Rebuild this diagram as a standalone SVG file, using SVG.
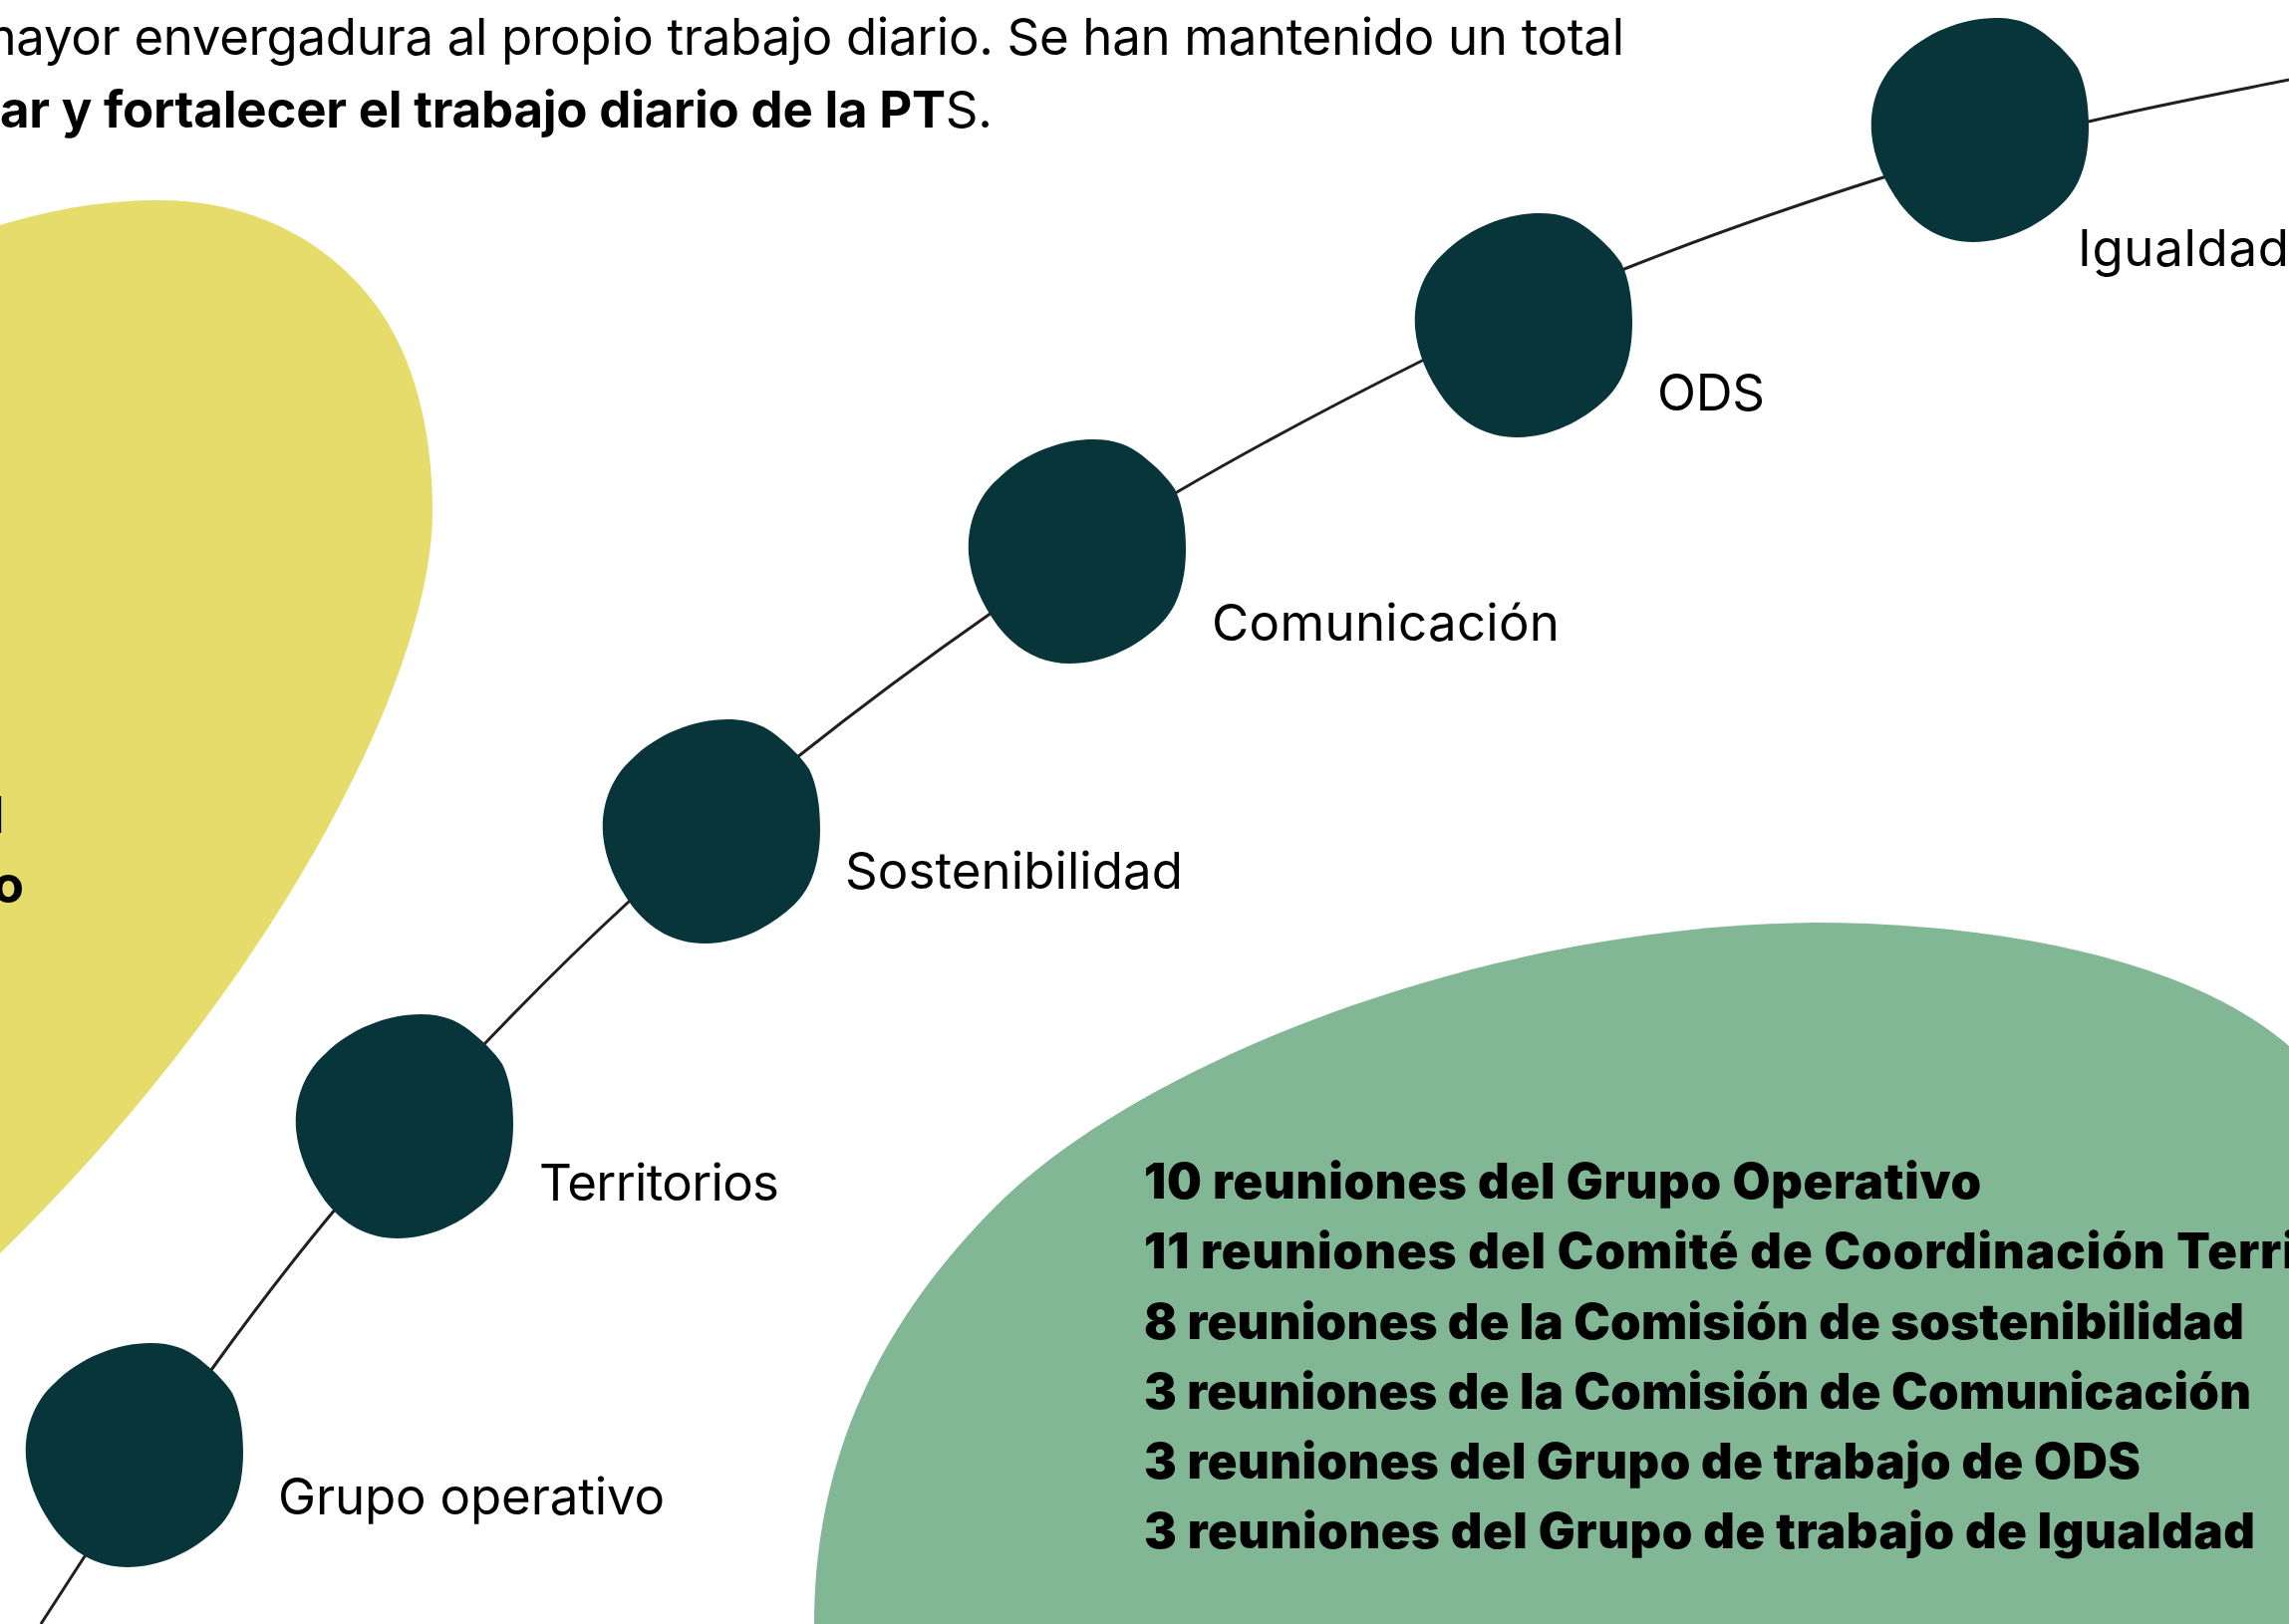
<svg xmlns="http://www.w3.org/2000/svg" xmlns:xlink="http://www.w3.org/1999/xlink" width="2297" height="1630" viewBox="0 0 2297 1630">
<style>
.txt{font-family:Inter,Roboto,"Liberation Sans",sans-serif;fill:#000}
.body{font-size:51px;font-weight:400}
.bold{font-weight:700}
.reg{font-weight:400}
.lbl{font-family:Inter,Roboto,"Liberation Sans",sans-serif;font-size:51px;font-weight:400;fill:#000}
.grn{font-family:Inter,Roboto,"Liberation Sans",sans-serif;font-size:49px;font-weight:900;fill:#000}
.blob{fill:#07353A}
.conn{fill:none;stroke:#231F20;stroke-width:3}
</style>
<defs>
<path id="blob" d="M126,0 C148,0 162,6 175,16 C190,28 200,38 208,50 C216,66 219,88 219,110 C219,140 212,168 193,186 C168,210 135,225 103,225 C72,225 48,210 30,187 C14,165 3,140 1,115 C-1,85 10,58 30,40 C55,15 92,0 126,0 Z"/>
</defs>
<rect x="0" y="0" width="2297" height="1630" fill="#FFFFFF"/>
<g id="yellow-shape">
<path d="M0,226 C60,208 110,201 160,201 C250,201 330,240 380,310 C415,360 434,430 434,513 C434,685 265,1000 0,1258 Z" fill="#E5DC6B"/>
<text class="txt body reg" x="5" y="836" text-anchor="end">l</text>
<text class="txt body bold" x="24" y="906" text-anchor="end">o</text>
</g>
<g id="green-shape">
<path d="M817,1630 C817,1480 870,1340 1000,1210 C1140,1070 1480,930 1820,926 C2010,926 2200,965 2297,1050 L2297,1630 Z" fill="#81B795"/>
</g>
<g id="intro-text">
<text class="txt body reg" x="-28" y="55" textLength="1658" lengthAdjust="spacing">mayor envergadura al propio trabajo diario. Se han mantenido un total</text>
<text class="txt body" x="0" y="128" textLength="996" lengthAdjust="spacing"><tspan class="bold">ar y fortalecer el trabajo diario de la PT</tspan><tspan class="reg">S.</tspan></text>
</g>
<g id="connectors">
<path class="conn" d="M41,1630 L85,1562 C113.5,1519.5 170,1433.2 212,1375 C254,1316.8 291.5,1267.3 337,1213 C382.5,1158.7 436,1100.3 485,1049 C534,997.7 578.5,953.2 631,905 C683.5,856.8 739.3,808.3 800,760 C860.7,711.7 931.5,659.3 995,615 C1058.5,570.7 1109,536.2 1181,494 C1253,451.8 1352.2,399.3 1427,362 C1501.8,324.7 1552.8,300.7 1630,270 C1707.2,239.3 1812.3,202.7 1890,178 C1967.7,153.3 2028.2,138.3 2096,122 C2163.8,105.7 2263.5,87 2297,80"/>
</g>
<g id="node-grupo-operativo">
<use xlink:href="#blob" href="#blob" class="blob" x="25" y="1348"/>
<text class="lbl" x="279" y="1520" textLength="388" lengthAdjust="spacing">Grupo operativo</text>
</g>
<g id="node-territorios">
<use xlink:href="#blob" href="#blob" class="blob" x="296" y="1018"/>
<text class="lbl" x="541" y="1205" textLength="241" lengthAdjust="spacing">Territorios</text>
</g>
<g id="node-sostenibilidad">
<use xlink:href="#blob" href="#blob" class="blob" x="604" y="722"/>
<text class="lbl" x="848" y="892" textLength="339" lengthAdjust="spacing">Sostenibilidad</text>
</g>
<g id="node-comunicacion">
<use xlink:href="#blob" href="#blob" class="blob" x="971" y="441"/>
<text class="lbl" x="1216" y="643" textLength="349" lengthAdjust="spacing">Comunicación</text>
</g>
<g id="node-ods">
<use xlink:href="#blob" href="#blob" class="blob" x="1419" y="214"/>
<text class="lbl" x="1663" y="412" textLength="108" lengthAdjust="spacing">ODS</text>
</g>
<g id="node-igualdad">
<use xlink:href="#blob" href="#blob" class="blob" x="1877" y="18"/>
<text class="lbl" x="2085" y="267" textLength="212" lengthAdjust="spacing">Igualdad</text>
</g>
<g id="meetings">
<text class="grn" x="1148" y="1203" textLength="840" lengthAdjust="spacing">10 reuniones del Grupo Operativo</text>
<text class="grn" x="1148" y="1273" textLength="1292" lengthAdjust="spacing">11 reuniones del Comité de Coordinación Territorial</text>
<text class="grn" x="1148" y="1344" textLength="1104" lengthAdjust="spacing">8 reuniones de la Comisión de sostenibilidad</text>
<text class="grn" x="1148" y="1414" textLength="1111" lengthAdjust="spacing">3 reuniones de la Comisión de Comunicación</text>
<text class="grn" x="1148" y="1484" textLength="1000" lengthAdjust="spacing">3 reuniones del Grupo de trabajo de ODS</text>
<text class="grn" x="1148" y="1554" textLength="1115" lengthAdjust="spacing">3 reuniones del Grupo de trabajo de Igualdad</text>
</g>
</svg>
